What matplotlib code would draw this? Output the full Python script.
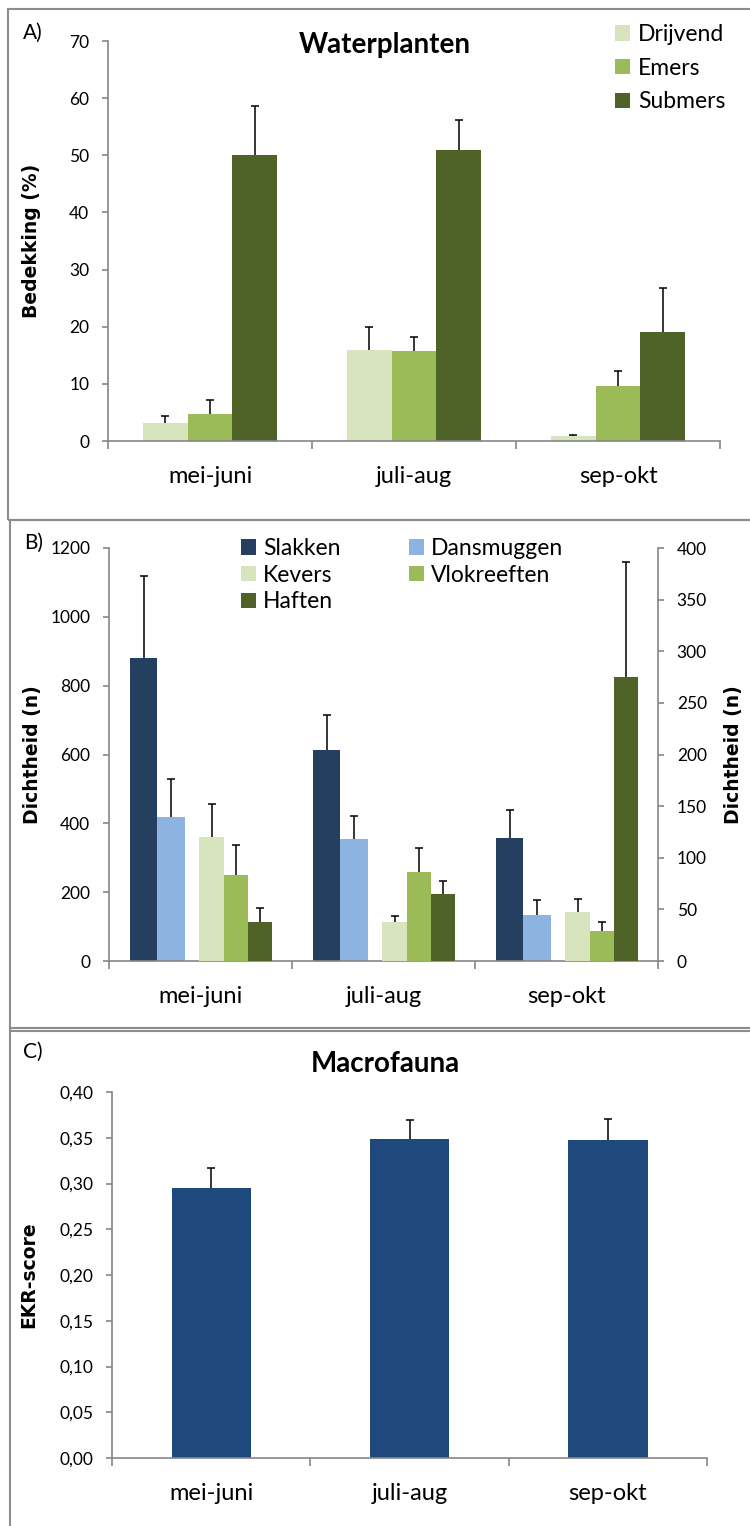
import matplotlib

matplotlib.use("Agg")
import matplotlib.pyplot as plt
import numpy as np
from matplotlib.patches import Rectangle
from matplotlib.ticker import FuncFormatter

plt.rcParams["font.family"] = ["Lato", "DejaVu Sans"]

# data
periods = ["mei-juni", "juli-aug", "sep-okt"]

# A) waterplanten, bedekking (%)
drijvend = [3.1, 15.9, 0.9]
drijvend_err = [1.3, 4.1, 0.2]
emers = [4.7, 15.7, 9.6]
emers_err = [2.4, 2.5, 2.7]
submers = [50.0, 51.0, 19.1]
submers_err = [8.6, 5.2, 7.6]

# B) macrofauna dichtheid, left axis
slakken = [880, 612, 358]
slakken_err = [238, 103, 80]
dansmuggen = [417, 355, 133]
dansmuggen_err = [113, 66, 43]
# right axis
kevers = [120, 38, 47]
kevers_err = [32, 6, 13]
vlokreeften = [83, 86, 29]
vlokreeften_err = [29, 23, 8.5]
haften = [38, 65, 275]
haften_err = [13, 12, 111]

# C) EKR-score
ekr = [0.295, 0.349, 0.348]
ekr_err = [0.022, 0.020, 0.023]

W, H = 750, 1526
GRAY = "#868686"
C_LIGHT = "#D7E4BD"
C_MID = "#9BBB59"
C_DARK = "#4F6228"
C_NAVY = "#243F60"
C_SKY = "#8DB3E2"
C_BLUE = "#1F497D"
BOLD_FONT = "DejaVu Sans"
TICK_SIZE = 12.5
CAT_SIZE = 17

fig = plt.figure(figsize=(W / 100, H / 100), dpi=100)


def px_axes(left, right, top, bottom):
    return fig.add_axes(
        [left / W, 1 - bottom / H, (right - left) / W, (bottom - top) / H]
    )


def fig_xy(x, y):
    return x / W, 1 - y / H


def style_axes(ax):
    for s in ["top", "right"]:
        ax.spines[s].set_visible(False)
    for s in ["left", "bottom"]:
        ax.spines[s].set_color(GRAY)
        ax.spines[s].set_linewidth(1.2)
    ax.tick_params(axis="y", direction="out", length=4.5, width=1.2,
                   color=GRAY, labelsize=TICK_SIZE, pad=9)
    ax.set_xlim(-0.5, 2.5)
    x = np.arange(len(periods))
    ax.set_xticks(np.arange(len(periods) + 1) - 0.5)
    ax.set_xticklabels([])
    ax.set_xticks(x, minor=True)
    ax.set_xticklabels(periods, minor=True, fontsize=CAT_SIZE)
    ax.tick_params(axis="x", which="major", direction="out", length=6,
                   width=1.2, color=GRAY)
    ax.tick_params(axis="x", which="minor", length=0, pad=18)


def bars(ax, xs, vals, errs, width, color, label=None):
    vals = np.asarray(vals)
    bc = ax.bar(
        xs, vals, width, color=color, label=label,
        yerr=[np.zeros_like(vals), errs],
        error_kw=dict(ecolor="black", elinewidth=1.1, capsize=3.2,
                      capthick=1.1),
    )
    # only the upper cap is shown
    bc.errorbar.lines[1][0].set_visible(False)
    return bc


def panel_box(top, bottom, left):
    x0, y0 = fig_xy(left, bottom)
    x1, y1 = fig_xy(W + 20, top)
    fig.add_artist(Rectangle((x0, y0), x1 - x0, y1 - y0, fill=False,
                             edgecolor="#8c8c8c", lw=1.5,
                             transform=fig.transFigure, clip_on=False))


def ylabel_at(ax, text, xpx, left, right):
    ax.set_ylabel(text, fontsize=13.5, fontweight="bold", family=BOLD_FONT)
    ax.yaxis.set_label_coords((xpx - left) / (right - left), 0.5)


x = np.arange(len(periods))

# ---- A) Waterplanten ----
panel_box(9, 520, 8)
axA = px_axes(108, 720, 41, 441)
style_axes(axA)
w = 0.22
bars(axA, x - w, drijvend, drijvend_err, w, C_LIGHT, "Drijvend")
bars(axA, x, emers, emers_err, w, C_MID, "Emers")
bars(axA, x + w, submers, submers_err, w, C_DARK, "Submers")
axA.set_ylim(0, 70)
axA.set_yticks(np.arange(0, 71, 10))
ylabel_at(axA, "Bedekking (%)", 41, 108, 720)
fig.text(*fig_xy(385, 45), "Waterplanten", fontsize=20, fontweight="bold",
         ha="center", va="center")
fig.text(*fig_xy(23, 33), "A)", fontsize=15, ha="left", va="center")
axA.legend(loc="upper left", bbox_to_anchor=fig_xy(615, 24),
           bbox_transform=fig.transFigure, frameon=False, fontsize=16.5,
           handlelength=0.65, handleheight=0.65, handletextpad=0.35,
           labelspacing=0.55, borderpad=0, borderaxespad=0)

# ---- B) Dichtheid ----
panel_box(520, 1031, 10)
axB = px_axes(109, 658, 548, 961)
style_axes(axB)
axB2 = axB.twinx()
for s in ["top", "left", "bottom"]:
    axB2.spines[s].set_visible(False)
axB2.spines["right"].set_color(GRAY)
axB2.spines["right"].set_linewidth(1.2)
axB2.tick_params(axis="y", direction="out", length=4.5, width=1.2,
                 color=GRAY, labelsize=TICK_SIZE, pad=9)

wp = 0.15
ws = 0.133
h1 = bars(axB, x - 0.385 + wp / 2, slakken, slakken_err, wp, C_NAVY, "Slakken")
h2 = bars(axB, x - 0.385 + 1.5 * wp, dansmuggen, dansmuggen_err, wp, C_SKY,
          "Dansmuggen")
s0 = -0.006
h3 = bars(axB2, x + s0 + ws / 2, kevers, kevers_err, ws, C_LIGHT, "Kevers")
h4 = bars(axB2, x + s0 + 1.5 * ws, vlokreeften, vlokreeften_err, ws, C_MID,
          "Vlokreeften")
h5 = bars(axB2, x + s0 + 2.5 * ws, haften, haften_err, ws, C_DARK, "Haften")
axB.set_ylim(0, 1200)
axB.set_yticks(np.arange(0, 1201, 200))
axB2.set_ylim(0, 400)
axB2.set_yticks(np.arange(0, 401, 50))
ylabel_at(axB, "Dichtheid (n)", 42, 109, 658)
ylabel_at(axB2, "Dichtheid (n)", 724, 109, 658)
fig.text(*fig_xy(24, 543), "B)", fontsize=15, ha="left", va="center")
axB.legend(handles=[h1, h3, h5, h2, h4], loc="upper left",
           bbox_to_anchor=fig_xy(241, 538), bbox_transform=fig.transFigure,
           ncol=2, frameon=False, fontsize=16.5, handlelength=0.65,
           handleheight=0.65, handletextpad=0.3, labelspacing=0.25,
           columnspacing=3.0, borderpad=0, borderaxespad=0)

# ---- C) Macrofauna ----
panel_box(1028, H + 20, 10)
axC = px_axes(112, 707, 1092, 1458)
style_axes(axC)
bars(axC, x, ekr, ekr_err, 0.4, C_BLUE)
axC.set_ylim(0, 0.40)
axC.set_yticks(np.arange(0, 0.401, 0.05))
axC.yaxis.set_major_formatter(
    FuncFormatter(lambda v, p: f"{v:.2f}".replace(".", ",")))
ylabel_at(axC, "EKR-score", 38, 112, 707)
fig.text(*fig_xy(385, 1064), "Macrofauna", fontsize=20, fontweight="bold",
         ha="center", va="center")
fig.text(*fig_xy(23, 1052), "C)", fontsize=15, ha="left", va="center")

fig.savefig("out.png", dpi=100)
